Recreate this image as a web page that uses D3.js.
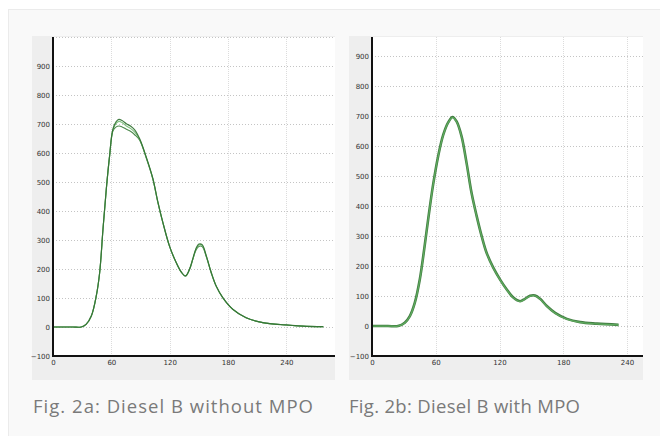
<!DOCTYPE html>
<html><head><meta charset="utf-8">
<script src="https://cdn.jsdelivr.net/npm/d3@7"></script>
<style>html,body{margin:0;padding:0;background:#fff;}svg{display:block;}</style>
</head><body>
<script>
// ---- data ----
const yTicks = [-100, 0, 100, 200, 300, 400, 500, 600, 700, 800, 900];
const xTicks = [0, 60, 120, 180, 240];
const captions = ["Fig. 2a: Diesel B without MPO", "Fig. 2b: Diesel B with MPO"];

// Fig 2a: time (x) and three overlapping runs
const xA = [0, 20, 29, 34, 39.4, 44.5, 48, 51.4, 54.8, 58.2, 61.6, 65, 67.8, 71, 75.4, 80, 84, 89, 96, 102.7, 107.8, 113, 119.8, 126.7, 131.8, 136.3, 140.4, 143.8, 147, 150, 153.4, 157.5, 162.7, 167.8, 174.6, 184.9, 198.6, 215.7, 239.7, 256.8, 278];
const runA1 = [0, 0, 0, 9, 38, 107, 188, 337, 475, 590, 682, 708, 716, 712, 701, 692, 680, 650, 585, 512, 432, 360, 279, 222, 190, 176, 199, 236, 270, 286, 284, 247, 188, 141, 101, 61, 32, 15, 7, 3, 1];
const runA2 = [0, 0, 0, 9, 38, 107, 188, 337, 475, 590, 676, 690, 693, 690, 682, 674, 663, 645, 582, 510, 430, 360, 279, 222, 190, 176, 199, 233, 265, 278, 277, 244, 187, 141, 101, 61, 32, 15, 7, 3, 1];
const runA3 = [0, 0, 0, 9, 38, 107, 188, 337, 475, 590, 680, 702, 709, 705, 693, 684, 672, 647, 583, 511, 431, 360, 279, 222, 190, 176, 199, 234, 268, 283, 281, 246, 188, 141, 101, 61, 32, 15, 7, 3, 1];

// Fig 2b
const xB = [0, 15, 24.5, 30.8, 35.6, 40.3, 45, 49.7, 52.8, 57.5, 62.3, 67, 71.7, 75.8, 79.6, 84.3, 89, 93.7, 98.5, 103.2, 107.9, 114.1, 120.4, 126.8, 133, 139.3, 144, 148.7, 153.4, 158.2, 164.5, 172.3, 183.3, 195.9, 211.6, 232];
const runB1 = [0, 0, 0, 11, 33, 78, 156, 272, 355, 472, 568, 638, 680, 698, 683, 633, 544, 444, 367, 300, 244, 195, 156, 122, 95, 83, 91, 101, 102, 91, 67, 44, 24, 13, 8, 4];
const runB2 = [0, 0, 0, 10, 32, 77, 155, 270, 354, 471, 567, 637, 679, 696, 682, 632, 543, 443, 366, 299, 243, 194, 155, 121, 94, 82, 90, 100, 101, 90, 66, 43, 23, 12, 7, 4];

const W = 660, H = 436;
const svg = d3.select("body").append("svg").attr("width", W).attr("height", H);

// card
svg.append("rect").attr("x", 8.5).attr("y", 9.5).attr("width", W).attr("height", H)
  .attr("fill", "#f9f9f9").attr("stroke", "#ebebeb");

const panels = [
  {panelX: 32, plotX: 53, plotR: 335, top: 37, axisY: 356, panelB: 380,
   xDom: [0, 290], yDom: [-100, 1000], xs: xA,
   runs: [{v: runA2, c: "#3b7d3b", w: 1.1}, {v: runA3, c: "#72bb72", w: 1.1}, {v: runA1, c: "#2f6f2f", w: 1.2}],
   capX: 33, capW: 280, topGrid: true},
  {panelX: 349, plotX: 372, plotR: 643, top: 37, axisY: 356, panelB: 380,
   xDom: [0, 255], yDom: [-100, 965], xs: xB,
   runs: [{v: runB1, c: "#2f6f2f", w: 2.6}, {v: runB2, c: "#62b062", w: 1.2}],
   capX: 349, capW: 231, topGrid: false}
];

panels.forEach((p, i) => {
  const g = svg.append("g");
  g.append("rect").attr("x", p.panelX).attr("y", p.top - 1).attr("width", p.plotR - p.panelX)
    .attr("height", p.panelB - p.top + 1).attr("fill", "#eeeeee");
  g.append("rect").attr("x", p.plotX).attr("y", p.top).attr("width", p.plotR - p.plotX)
    .attr("height", p.axisY - p.top).attr("fill", "#ffffff");

  const x = d3.scaleLinear().domain(p.xDom).range([p.plotX, p.plotR]);
  const y = d3.scaleLinear().domain(p.yDom).range([p.axisY, p.top]);

  // vertical grid
  g.selectAll(".vg").data(xTicks.slice(1)).enter().append("line")
    .attr("x1", d => Math.round(x(d)) + 0.5).attr("x2", d => Math.round(x(d)) + 0.5)
    .attr("y1", p.top).attr("y2", p.axisY)
    .attr("stroke", "#dcdcdc").attr("stroke-width", 1).attr("stroke-dasharray", "1,1");
  // horizontal grid
  const hg = yTicks.slice(1).concat(p.topGrid ? [1000] : []);
  g.selectAll(".hg").data(hg).enter().append("line")
    .attr("x1", p.plotX).attr("x2", p.plotR)
    .attr("y1", d => Math.round(y(d)) + 0.5).attr("y2", d => Math.round(y(d)) + 0.5)
    .attr("stroke", "#c4c4c4").attr("stroke-width", 1).attr("stroke-dasharray", "1,2");

  // y axis
  const ya = d3.axisLeft(y).tickValues(yTicks).tickSize(0).tickPadding(3).tickFormat(d3.format("d"));
  const yg = g.append("g").attr("transform", `translate(${p.plotX},0)`).call(ya);
  yg.select(".domain").remove();
  yg.selectAll("text").attr("font-family", "DejaVu Sans, Verdana, sans-serif").attr("font-size", 7)
    .attr("fill", "#333");
  // x axis
  const xa = d3.axisBottom(x).tickValues(xTicks).tickSize(0).tickPadding(4).tickFormat(d3.format("d"));
  const xg = g.append("g").attr("transform", `translate(0,${p.axisY})`).call(xa);
  xg.select(".domain").remove();
  xg.selectAll("text").attr("font-family", "DejaVu Sans, Verdana, sans-serif").attr("font-size", 7)
    .attr("fill", "#333");

  // curves
  const line = d3.line().x((d, k) => x(p.xs[k])).y(d => y(d)).curve(d3.curveCatmullRom.alpha(0.5));
  p.runs.forEach(r => {
    g.append("path").attr("d", line(r.v)).attr("fill", "none").attr("stroke", r.c)
      .attr("stroke-width", r.w).attr("stroke-linejoin", "round").attr("opacity", 0.9);
  });

  // axis lines
  g.append("line").attr("x1", p.plotX).attr("x2", p.plotX).attr("y1", p.top).attr("y2", p.axisY + 1)
    .attr("stroke", "#111").attr("stroke-width", 2);
  g.append("line").attr("x1", p.plotX).attr("x2", p.plotR).attr("y1", p.axisY).attr("y2", p.axisY)
    .attr("stroke", "#111").attr("stroke-width", 2);

  // caption
  svg.append("text").attr("x", p.capX).attr("y", 413).text(captions[i])
    .attr("font-family", "Open Sans, sans-serif").attr("font-size", 18.5).attr("fill", "#7a7a7a")
    .attr("textLength", p.capW).attr("lengthAdjust", "spacing");
});
</script>
</body></html>
